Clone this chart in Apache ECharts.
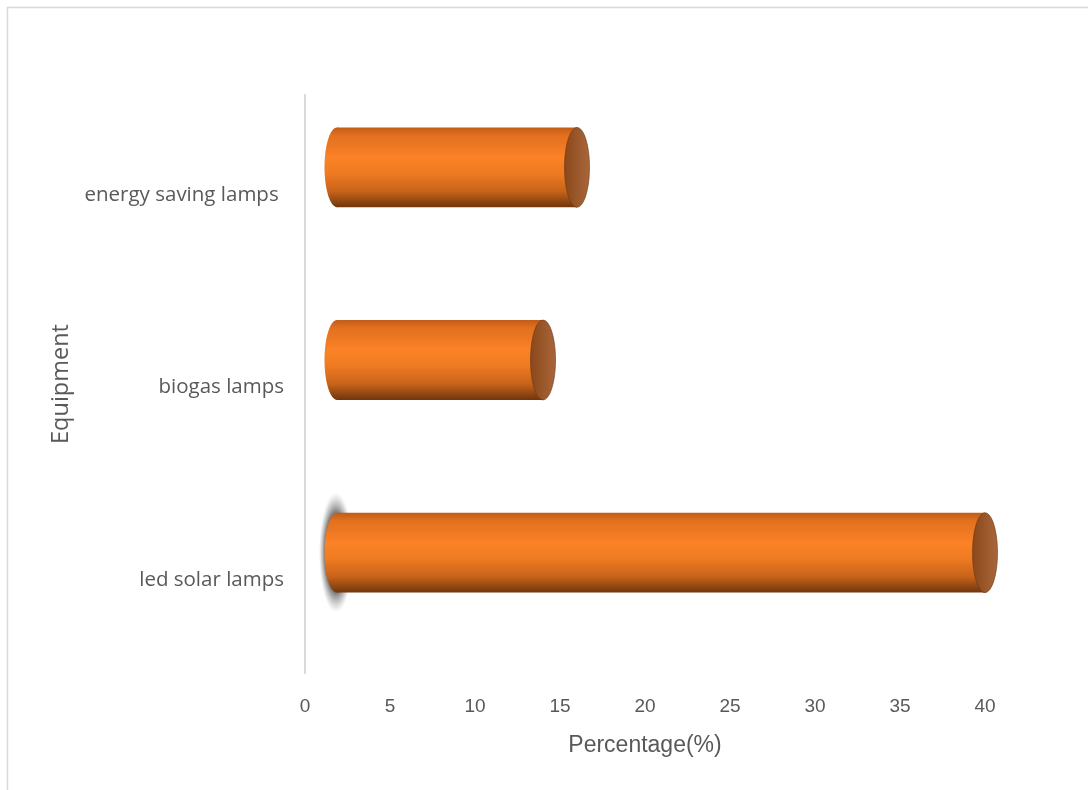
<!DOCTYPE html>
<html>
<head>
<meta charset="utf-8">
<script src="https://cdn.jsdelivr.net/npm/echarts@6/dist/echarts.min.js"></script>
<style>
  html, body { margin: 0; padding: 0; background: #ffffff; }
  #chart { width: 1088px; height: 790px; }
</style>
</head>
<body>
<div id="chart"></div>
<script>
// Equipment categories (bottom to top on the axis) and their share in percent
const categories = ['led solar lamps', 'biogas lamps', 'energy saving lamps '];
const percentages = [40, 14, 16];
const xTicks = { min: 0, max: 40, interval: 5 };

const chart = echarts.init(document.getElementById('chart'));

// Cylinder body shading (top to bottom)
const bodyFill = new echarts.graphic.LinearGradient(0, 0, 0, 1, [
  { offset: 0.00, color: '#c25c17' },
  { offset: 0.10, color: '#e2701f' },
  { offset: 0.38, color: '#fb8226' },
  { offset: 0.58, color: '#ee7a22' },
  { offset: 0.80, color: '#c8631a' },
  { offset: 1.00, color: '#6f360d' }
]);
// End cap shading (left to right)
const capFill = new echarts.graphic.LinearGradient(0, 0, 1, 0, [
  { offset: 0, color: '#8a4719' },
  { offset: 1, color: '#a9673b' }
]);
// Soft halo behind the rear end of the longest bar
const haloFill = new echarts.graphic.RadialGradient(0.5, 0.5, 0.5, [
  { offset: 0.0, color: 'rgba(30,30,30,0.95)' },
  { offset: 0.6, color: 'rgba(55,55,55,0.85)' },
  { offset: 1.0, color: 'rgba(140,140,140,0)' }
]);

function renderCylinder(params, api) {
  const value = api.value(0);
  const cat = api.value(1);
  const base = api.coord([0, cat]);
  const tip = api.coord([value, cat]);
  const band = api.size([0, 1])[1];
  const ry = band * 0.207;
  const rx = 12.5;
  const cy = tip[1] - 24;       // depth offset of the 3D bar
  const x0 = base[0] + 32;      // centre of the rear end
  const x1 = tip[0];            // centre of the front cap
  const children = [];
  if (params.dataIndex === 0) {
    const hr = ry + 20;
    children.push({
      type: 'circle',
      x: x0 - 1, y: cy,
      scaleX: 17 / hr, scaleY: 1,
      shape: { cx: 0, cy: 0, r: hr },
      style: { fill: haloFill }
    });
  }
  children.push(
    { type: 'ellipse', shape: { cx: x0, cy: cy, rx: rx, ry: ry }, style: { fill: bodyFill } },
    { type: 'rect', shape: { x: x0, y: cy - ry, width: x1 - x0, height: ry * 2 }, style: { fill: bodyFill } },
    { type: 'ellipse', shape: { cx: x1, cy: cy, rx: rx, ry: ry },
      style: { fill: capFill, stroke: 'rgba(110,55,20,0.6)', lineWidth: 1 } }
  );
  return { type: 'group', children: children };
}

const catLabelStyle = { fontFamily: 'Open Sans, sans-serif', fontSize: 20.5, color: '#595959', padding: [7, 0, 0, 0] };

chart.setOption({
  backgroundColor: '#ffffff',
  animation: false,
  grid: { left: 305, right: 103, top: 95, bottom: 117, containLabel: false },
  xAxis: {
    type: 'value',
    min: xTicks.min, max: xTicks.max, interval: xTicks.interval,
    name: 'Percentage(%)',
    nameLocation: 'middle',
    nameGap: 61,
    nameTextStyle: { fontFamily: 'Liberation Sans, sans-serif', fontSize: 23, color: '#595959' },
    axisLine: { show: false },
    axisTick: { show: false },
    splitLine: { show: false },
    axisLabel: { margin: 24, fontFamily: 'Liberation Sans, sans-serif', fontSize: 19, color: '#595959' }
  },
  yAxis: {
    type: 'category',
    data: categories,
    name: 'Equipment',
    nameLocation: 'middle',
    nameGap: 231,
    nameRotate: 90,
    nameTextStyle: { fontFamily: 'Open Sans, sans-serif', fontSize: 23.5, color: '#595959' },
    axisLine: { show: true, lineStyle: { color: '#d9d9d9', width: 2 } },
    axisTick: { show: false },
    splitLine: { show: false },
    axisLabel: {
      margin: 21,
      formatter: v => '{c|' + v + '}',
      rich: { c: catLabelStyle }
    }
  },
  graphic: [
    { type: 'line', shape: { x1: 7, y1: 7.5, x2: 1088, y2: 7.5 }, style: { stroke: '#d9d9d9', lineWidth: 1.5 } },
    { type: 'line', shape: { x1: 7.5, y1: 7, x2: 7.5, y2: 790 }, style: { stroke: '#d9d9d9', lineWidth: 1.5 } }
  ],
  series: [{
    type: 'custom',
    renderItem: renderCylinder,
    encode: { x: 0, y: 1 },
    data: percentages.map((v, i) => [v, i])
  }]
});
</script>
</body>
</html>
